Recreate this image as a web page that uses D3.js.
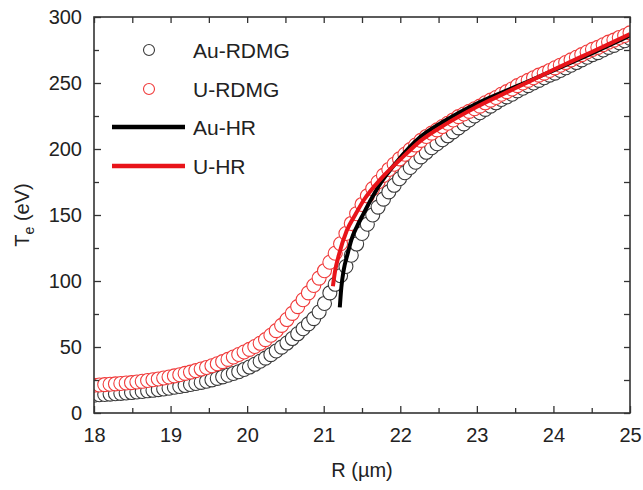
<!DOCTYPE html>
<html>
<head>
<meta charset="utf-8">
<script src="https://cdn.jsdelivr.net/npm/d3@7"></script>
<style>
  html, body { margin: 0; padding: 0; background: #fff; }
  svg { display: block; font-family: "Liberation Sans", Arial, Helvetica, sans-serif; }
</style>
</head>
<body>
<svg id="chart" width="643" height="490"></svg>
<script>
// Radius grid shared by both RDMG simulations (µm)
const radius = [
  18.00, 18.07, 18.14, 18.21, 18.28, 18.35, 18.42, 18.49, 18.56, 18.63,
  18.70, 18.77, 18.84, 18.91, 18.98, 19.05, 19.12, 19.19, 19.26, 19.33,
  19.40, 19.47, 19.54, 19.61, 19.68, 19.75, 19.82, 19.89, 19.96, 20.03,
  20.10, 20.17, 20.24, 20.31, 20.38, 20.45, 20.52, 20.59, 20.66, 20.73,
  20.80, 20.87, 20.94, 21.01, 21.08, 21.15, 21.22, 21.29, 21.36, 21.43,
  21.50, 21.57, 21.64, 21.71, 21.78, 21.85, 21.92, 21.99, 22.06, 22.13,
  22.20, 22.27, 22.34, 22.41, 22.48, 22.55, 22.62, 22.69, 22.76, 22.83,
  22.90, 22.97, 23.04, 23.11, 23.18, 23.25, 23.32, 23.39, 23.46, 23.53,
  23.60, 23.67, 23.74, 23.81, 23.88, 23.95, 24.02, 24.09, 24.16, 24.23,
  24.30, 24.37, 24.44, 24.51, 24.58, 24.65, 24.72, 24.79, 24.86, 24.93,
  25.00
];

// Electron temperature, Au-RDMG (eV)
const teAuRDMG = [
  13.5, 13.8, 14.0, 14.3, 14.6, 14.9, 15.2, 15.5, 15.9, 16.3,
  16.8, 17.2, 17.7, 18.2, 18.8, 19.5, 20.1, 20.8, 21.6, 22.4,
  23.2, 24.1, 25.1, 26.2, 27.4, 28.6, 29.9, 31.3, 33.0, 34.8,
  36.9, 39.2, 41.6, 44.2, 47.0, 49.9, 53.0, 56.4, 60.0, 63.8,
  67.5, 71.5, 76.5, 83.0, 91.0, 97.5, 104.0, 111.0, 119.5, 128.0,
  136.0, 143.0, 150.0, 156.0, 162.0, 167.5, 172.5, 177.5, 182.0, 186.0,
  190.0, 194.0, 197.5, 201.0, 204.0, 207.0, 210.0, 213.0, 216.0, 219.0,
  222.0, 225.0, 227.5, 230.0, 232.5, 235.0, 237.5, 239.5, 241.5, 244.0,
  246.0, 248.0, 250.0, 252.0, 254.0, 256.0, 257.5, 259.5, 261.5, 263.5,
  265.5, 267.5, 269.5, 271.5, 273.0, 275.0, 277.0, 278.5, 280.5, 282.0,
  284.0
];

// Electron temperature, U-RDMG (eV)
const teURDMG = [
  21.0, 21.2, 21.5, 21.8, 22.1, 22.4, 22.7, 23.0, 23.5, 24.0,
  24.6, 25.2, 25.8, 26.5, 27.3, 28.1, 29.0, 30.0, 31.0, 32.1,
  33.3, 34.5, 35.8, 37.3, 38.9, 40.6, 42.4, 44.3, 46.2, 48.2,
  50.4, 52.8, 55.6, 58.9, 62.4, 66.4, 70.8, 75.5, 80.6, 85.8,
  91.0, 96.6, 102.2, 107.8, 114.2, 121.0, 128.2, 136.0, 143.6, 151.0,
  158.0, 164.5, 170.0, 175.0, 180.0, 184.5, 188.5, 192.5, 196.0, 199.5,
  203.0, 206.5, 209.5, 212.0, 214.5, 217.0, 219.5, 222.0, 224.5, 226.5,
  228.5, 230.5, 232.5, 235.0, 237.0, 239.0, 241.5, 243.5, 245.5, 248.0,
  250.0, 252.0, 254.0, 256.0, 257.5, 259.5, 261.5, 263.5, 265.5, 267.5,
  269.5, 271.5, 273.5, 275.5, 277.0, 279.0, 281.0, 282.5, 284.5, 286.0,
  288.0
];

// HR profiles: radius (µm) and electron temperature (eV)
const rAuHR  = [21.21, 21.23, 21.26, 21.31, 21.36, 21.44, 21.52, 21.63, 21.74, 21.95, 22.26, 22.60, 23.00, 23.50, 24.00, 24.50, 25.00];
const teAuHR = [80, 95, 108, 120, 131, 142, 151, 163, 174, 190, 209, 222, 234.5, 247, 259.5, 272.5, 286];
const rUHR   = [21.12, 21.15, 21.19, 21.30, 21.41, 21.52, 21.74, 22.00, 22.26, 22.60, 23.00, 23.50, 24.00, 24.50, 25.00];
const teUHR  = [96, 108, 118, 138, 150, 161, 177, 192, 206, 219, 232, 246, 260, 273.5, 287];

// Axis ticks
const xTicks = [18, 19, 20, 21, 22, 23, 24, 25];
const xMinorTicks = [18.5, 19.5, 20.5, 21.5, 22.5, 23.5, 24.5];
const yTicks = [0, 50, 100, 150, 200, 250, 300];
const yMinorTicks = [25, 75, 125, 175, 225, 275];

const legendItems = [
  { label: "Au-RDMG", kind: "circle", color: "#3a3a3a" },
  { label: "U-RDMG",  kind: "circle", color: "#f03a3a" },
  { label: "Au-HR",   kind: "line",   color: "#000000" },
  { label: "U-HR",    kind: "line",   color: "#e8141a" }
];

const svg = d3.select("#chart");
const plot = { left: 94, right: 630, top: 17, bottom: 413 };

const x = d3.scaleLinear().domain([18, 25]).range([plot.left, plot.right]);
const y = d3.scaleLinear().domain([0, 300]).range([plot.bottom, plot.top]);

const axisColor = "#333";
const fontSize = 20;

// Clip marks to the frame
svg.append("clipPath").attr("id", "plotClip")
  .append("rect")
  .attr("x", plot.left).attr("y", plot.top)
  .attr("width", plot.right - plot.left).attr("height", plot.bottom - plot.top);

const marks = svg.append("g").attr("clip-path", "url(#plotClip)");

function drawCircles(values, color) {
  marks.append("g")
    .selectAll("circle")
    .data(radius.map((r, i) => [r, values[i]]))
    .join("circle")
    .attr("cx", d => x(d[0]))
    .attr("cy", d => y(d[1]))
    .attr("r", 7)
    .attr("fill", "#fff")
    .attr("stroke", color)
    .attr("stroke-width", 1.1);
}
drawCircles(teAuRDMG, legendItems[0].color);
drawCircles(teURDMG, legendItems[1].color);

const line = d3.line().x(d => x(d[0])).y(d => y(d[1])).curve(d3.curveMonotoneX);
function drawLine(rs, ts, color) {
  marks.append("path")
    .datum(rs.map((r, i) => [r, ts[i]]))
    .attr("d", line)
    .attr("fill", "none")
    .attr("stroke", color)
    .attr("stroke-width", 4)
    .attr("stroke-linecap", "butt");
}
drawLine(rAuHR, teAuHR, legendItems[2].color);
drawLine(rUHR, teUHR, legendItems[3].color);

// Axes: inward ticks on all four sides
const majorLen = 7, minorLen = 5;
function styleAxis(g) {
  g.select(".domain").remove();
  g.selectAll("line").attr("stroke", axisColor).attr("stroke-width", 1.3);
  g.selectAll("text").attr("fill", "#222").style("font-size", fontSize + "px");
}

svg.append("g").attr("transform", `translate(0,${plot.bottom})`)
  .call(d3.axisBottom(x).tickValues(xTicks).tickFormat(d3.format("d"))
    .tickSizeInner(-majorLen).tickSizeOuter(0).tickPadding(15))
  .call(styleAxis);
svg.append("g").attr("transform", `translate(0,${plot.bottom})`)
  .call(d3.axisBottom(x).tickValues(xMinorTicks).tickFormat("")
    .tickSizeInner(-minorLen).tickSizeOuter(0))
  .call(styleAxis);
svg.append("g").attr("transform", `translate(0,${plot.top})`)
  .call(d3.axisTop(x).tickValues(xTicks.concat(xMinorTicks)).tickFormat("")
    .tickSize(-majorLen + 1))
  .call(styleAxis);

svg.append("g").attr("transform", `translate(${plot.left},0)`)
  .call(d3.axisLeft(y).tickValues(yTicks).tickFormat(d3.format("d"))
    .tickSizeInner(-majorLen).tickSizeOuter(0).tickPadding(12))
  .call(styleAxis);
svg.append("g").attr("transform", `translate(${plot.left},0)`)
  .call(d3.axisLeft(y).tickValues(yMinorTicks).tickFormat("")
    .tickSizeInner(-minorLen).tickSizeOuter(0))
  .call(styleAxis);
svg.append("g").attr("transform", `translate(${plot.right},0)`)
  .call(d3.axisRight(y).tickValues(yTicks.concat(yMinorTicks)).tickFormat("")
    .tickSize(-majorLen + 1))
  .call(styleAxis);

// Frame
svg.append("rect")
  .attr("x", plot.left).attr("y", plot.top)
  .attr("width", plot.right - plot.left).attr("height", plot.bottom - plot.top)
  .attr("fill", "none").attr("stroke", axisColor).attr("stroke-width", 1.6);

// Axis titles
svg.append("text")
  .attr("x", (plot.left + plot.right) / 2).attr("y", 477)
  .attr("text-anchor", "middle")
  .style("font-size", fontSize + "px").attr("fill", "#222")
  .text("R (µm)");

const yTitle = svg.append("text")
  .attr("transform", `translate(29,${(plot.top + plot.bottom) / 2}) rotate(-90)`)
  .attr("text-anchor", "middle")
  .style("font-size", fontSize + "px").attr("fill", "#222");
yTitle.append("tspan").text("T");
yTitle.append("tspan").attr("dy", 5).style("font-size", "14px").text("e");
yTitle.append("tspan").attr("dy", -5).text(" (eV)");

// Legend
const legend = svg.append("g");
const legendRows = [50, 89, 127, 166];
legendItems.forEach((item, i) => {
  const cy = legendRows[i];
  if (item.kind === "circle") {
    legend.append("circle").attr("cx", 149).attr("cy", cy).attr("r", 5.5)
      .attr("fill", "#fff").attr("stroke", item.color).attr("stroke-width", 1.1);
  } else {
    legend.append("line").attr("x1", 112).attr("x2", 185).attr("y1", cy).attr("y2", cy)
      .attr("stroke", item.color).attr("stroke-width", 4.5);
  }
  legend.append("text").attr("x", 193).attr("y", cy + 8)
    .style("font-size", "21px").attr("fill", "#222")
    .text(item.label);
});
</script>
</body>
</html>
